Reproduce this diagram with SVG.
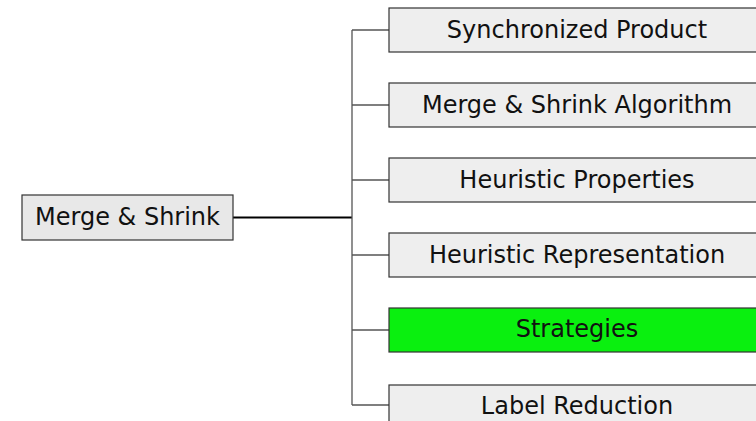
<svg xmlns="http://www.w3.org/2000/svg" width="756" height="421" viewBox="0 0 756 421">
<style>
.box{fill:#eeeeee;stroke:#333333;stroke-width:1.2}
.root{fill:#e8e8e8;stroke:#333333;stroke-width:1.2}
.hl{fill:#0af00f;stroke:#333333;stroke-width:1.2}
.t{font-family:"DejaVu Sans","Liberation Sans",Arial,sans-serif;font-size:24px;fill:#111111;text-anchor:middle}
.c{fill:none;stroke:#555555;stroke-width:1.3}
.cr{fill:none;stroke:#000000;stroke-width:2}
</style>
<rect width="756" height="421" fill="#ffffff"/>
<g id="connectors">
<path class="cr" d="M233 217.5H352"/>
<path class="c" d="M352 30V405M352 30H389M352 105H389M352 180H389M352 255H389M352 330H389M352 405H389"/>
</g>
<g id="root"><rect class="root" x="22" y="195" width="211" height="45"/><text class="t" x="127.5" y="225">Merge &amp; Shrink</text></g>
<g id="n1"><rect class="box" x="389" y="8" width="380" height="44"/><text class="t" x="577" y="38">Synchronized Product</text></g>
<g id="n2"><rect class="box" x="389" y="83" width="380" height="44"/><text class="t" x="577" y="113">Merge &amp; Shrink Algorithm</text></g>
<g id="n3"><rect class="box" x="389" y="158" width="380" height="44"/><text class="t" x="577" y="188">Heuristic Properties</text></g>
<g id="n4"><rect class="box" x="389" y="233" width="380" height="44"/><text class="t" x="577" y="263">Heuristic Representation</text></g>
<g id="n5"><rect class="hl" x="389" y="308" width="380" height="44"/><text class="t" x="577" y="337">Strategies</text></g>
<g id="n6"><rect class="box" x="389" y="385" width="380" height="44"/><text class="t" x="577" y="414">Label Reduction</text></g>
</svg>
